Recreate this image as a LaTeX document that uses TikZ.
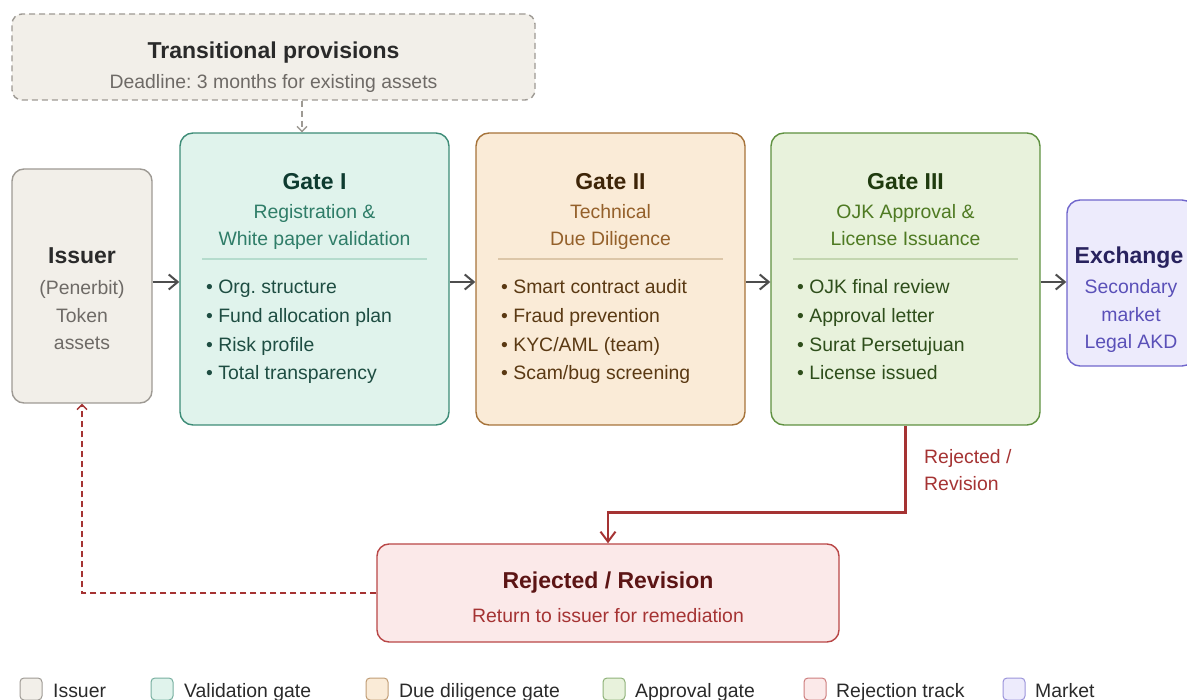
\documentclass[tikz,border=0pt]{standalone}
\usepackage{fontspec}
\setmainfont{Liberation Sans}
\usetikzlibrary{arrows.meta}
\frenchspacing

\definecolor{neufill}{HTML}{F2EFE9}
\definecolor{neuline}{HTML}{9E9A94}
\definecolor{neudark}{HTML}{2A2A2A}
\definecolor{neutext}{HTML}{6E6A66}
\definecolor{valfill}{HTML}{E0F3EC}
\definecolor{valline}{HTML}{3D8C77}
\definecolor{valdark}{HTML}{0E3B30}
\definecolor{valtext}{HTML}{2F7D68}
\definecolor{vallist}{HTML}{1E4D42}
\definecolor{valsep}{HTML}{B5DCCD}
\definecolor{ddfill}{HTML}{FAEBD7}
\definecolor{ddline}{HTML}{A6733A}
\definecolor{dddark}{HTML}{3E2508}
\definecolor{ddtext}{HTML}{94602A}
\definecolor{ddlist}{HTML}{5A3913}
\definecolor{ddsep}{HTML}{DCC6A8}
\definecolor{apfill}{HTML}{E8F2DC}
\definecolor{apline}{HTML}{5F9140}
\definecolor{apdark}{HTML}{1F3B0E}
\definecolor{aptext}{HTML}{4E7A22}
\definecolor{aplist}{HTML}{2E4E1B}
\definecolor{apsep}{HTML}{C3D6B0}
\definecolor{mkfill}{HTML}{EDEBFC}
\definecolor{mkline}{HTML}{7066CC}
\definecolor{mkdark}{HTML}{28225E}
\definecolor{mktext}{HTML}{5A50B8}
\definecolor{rjfill}{HTML}{FBE9E9}
\definecolor{rjline}{HTML}{B94747}
\definecolor{rjdark}{HTML}{5C1515}
\definecolor{rjtext}{HTML}{A53333}
\definecolor{arrowgray}{HTML}{4D4D4D}

\begin{document}
\begin{tikzpicture}[x=1pt,y=-1pt,
    box/.style={rectangle,rounded corners=13pt,line width=1.4pt,inner sep=0pt},
    ttl/.style={font=\fontsize{23}{27}\selectfont\bfseries,anchor=base},
    txt/.style={font=\fontsize{19.4}{27.5}\selectfont,anchor=base,align=center},
    lst/.style={font=\fontsize{19.4}{28.7}\selectfont,anchor=base west,align=left,inner sep=0pt},
    sep/.style={line width=1.2pt},
    flow/.style={draw=arrowgray,line width=2pt,-{Straight Barb[length=9pt,width=15pt,line width=2pt]}},
    reject/.style={draw=rjtext,line width=2.5pt,-{Straight Barb[length=10pt,width=15pt,line width=2pt]}},
    hint/.style={dash pattern=on 6pt off 4pt,line width=1.5pt,-{Straight Barb[length=5pt,width=10pt,line width=1.3pt]}},
    key/.style={rectangle,rounded corners=4pt,line width=1pt,minimum width=22pt,minimum height=22pt,inner sep=0pt},
    keytxt/.style={font=\fontsize{19.4}{23}\selectfont,anchor=base west,inner sep=0pt,text=neudark}
  ]
  \useasboundingbox (0,0) rectangle (1187,700);

  % transitional provisions
  \node[box,draw=neuline,fill=neufill,dash pattern=on 6pt off 4pt,rounded corners=10pt,minimum width=523pt,minimum height=86pt] (trans) at (273.5,57) {};
  \node[ttl,text=neudark] (transttl) at (273.5,59) {Transitional provisions};
  \node[txt,text=neutext] (transsub) at (273.5,89) {Deadline: 3 months for existing assets};

  % issuer
  \node[box,draw=neuline,fill=neufill,rounded corners=12pt,minimum width=140pt,minimum height=234pt] (iss) at (82,286) {};
  \node[ttl,text=neudark] (issttl) at (82,264) {Issuer};
  \node[txt,text=neutext] (isssub) at (82,350) {(Penerbit)\\Token\\assets};

  % gate I
  \node[box,draw=valline,fill=valfill,minimum width=269pt,minimum height=292pt] (g1) at (314.5,279) {};
  \node[ttl,text=valdark] (g1ttl) at (314.5,190) {Gate I};
  \node[txt,text=valtext] (g1sub) at (314.5,246) {Registration \&\\White paper validation};
  \draw[sep,draw=valsep] (202,259) -- (427,259);
  \node[lst,text=vallist] (g1lst) at (206,380) {• Org. structure\\• Fund allocation plan\\• Risk profile\\• Total transparency};

  % gate II
  \node[box,draw=ddline,fill=ddfill,minimum width=269pt,minimum height=292pt] (g2) at (610.5,279) {};
  \node[ttl,text=dddark] (g2ttl) at (610.5,190) {Gate II};
  \node[txt,text=ddtext] (g2sub) at (610.5,246) {Technical\\Due Diligence};
  \draw[sep,draw=ddsep] (498,259) -- (723,259);
  \node[lst,text=ddlist] (g2lst) at (501,380) {• Smart contract audit\\• Fraud prevention\\• KYC/AML (team)\\• Scam/bug screening};

  % gate III
  \node[box,draw=apline,fill=apfill,minimum width=269pt,minimum height=292pt] (g3) at (905.5,279) {};
  \node[ttl,text=apdark] (g3ttl) at (905.5,190) {Gate III};
  \node[txt,text=aptext] (g3sub) at (905.5,246) {OJK Approval \&\\License Issuance};
  \draw[sep,draw=apsep] (793,259) -- (1018,259);
  \node[lst,text=aplist] (g3lst) at (797,380) {• OJK final review\\• Approval letter\\• Surat Persetujuan\\• License issued};

  % exchange
  \node[box,draw=mkline,fill=mkfill,minimum width=128pt,minimum height=166pt] (ex) at (1131,283) {};
  \node[ttl,text=mkdark] (exttl) at (1129,264) {Exchange};
  \node[txt,text=mktext] (exsub) at (1131,349) {Secondary\\market\\Legal AKD};

  % rejection
  \node[box,draw=rjline,fill=rjfill,rounded corners=12pt,minimum width=462pt,minimum height=98pt] (rej) at (608,593) {};
  \node[ttl,text=rjdark] (rejttl) at (608,588) {Rejected / Revision};
  \node[txt,text=rjtext] (rejsub) at (608,622) {Return to issuer for remediation};

  % connectors
  \coordinate (rowy) at (0,282);
  \coordinate (tap) at (302,0);
  \draw[flow] (iss.east |- rowy) -- (g1.west |- rowy);
  \draw[flow] (g1.east |- rowy) -- (g2.west |- rowy);
  \draw[flow] (g2.east |- rowy) -- (g3.west |- rowy);
  \draw[flow] (g3.east |- rowy) -- (ex.west |- rowy);
  \draw[hint,draw=neuline] (trans.south -| tap) -- (g1.north -| tap);
  \draw[reject] (g3.south) -- ++(0,87) -| (rej.north);
  \node[txt,anchor=base west,align=left,inner sep=0pt,text=rjtext] (rejlbl) at (924,491) {Rejected /\\Revision};
  \draw[hint,draw=rjtext] (rej.west) -| (iss.south);

  % legend
  \node[key,draw=neuline,fill=neufill] (k1) at (31,689) {};
  \node[keytxt] (k1t) at (53,697) {Issuer};
  \node[key,draw=valline!70,fill=valfill] (k2) at (162,689) {};
  \node[keytxt] (k2t) at (184,697) {Validation gate};
  \node[key,draw=ddline!70,fill=ddfill] (k3) at (377,689) {};
  \node[keytxt] (k3t) at (399,697) {Due diligence gate};
  \node[key,draw=apline!70,fill=apfill] (k4) at (614,689) {};
  \node[keytxt] (k4t) at (635,697) {Approval gate};
  \node[key,draw=rjline!70,fill=rjfill] (k5) at (815,689) {};
  \node[keytxt] (k5t) at (836,697) {Rejection track};
  \node[key,draw=mkline!70,fill=mkfill] (k6) at (1014,689) {};
  \node[keytxt] (k6t) at (1035,697) {Market};
\end{tikzpicture}
\end{document}
